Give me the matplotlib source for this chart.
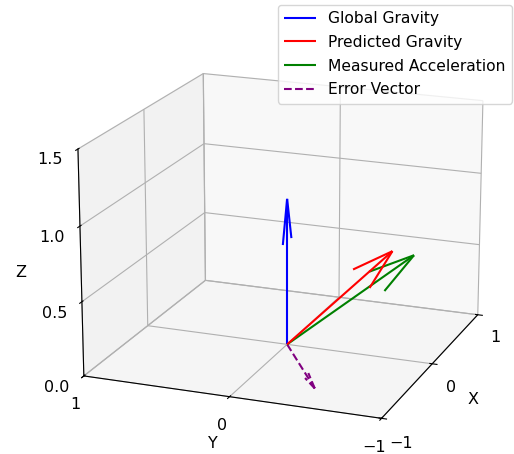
import numpy as np
import matplotlib
matplotlib.use("Agg")
import matplotlib.pyplot as plt

plt.rcParams["font.size"] = 11.5

# Vectors (from origin)
origin = [0.0, 0.0, 0.0]
global_gravity = [0.0, 0.0, 1.0]
predicted_gravity = [0.0, -0.72, 0.73]
measured_accel = [0.2, -0.8, 0.65]
error_vector = [-0.15, -0.25, -0.22]

labels = ["Global Gravity", "Predicted Gravity", "Measured Acceleration", "Error Vector"]
colors = ["blue", "red", "green", "purple"]
styles = ["-", "-", "-", "--"]
vectors = [global_gravity, predicted_gravity, measured_accel, error_vector]

x_lim = [-1, 1]
y_lim = [-1, 1]
z_lim = [0, 1.5]

fig = plt.figure(figsize=(5.14, 4.54), dpi=100)
ax = fig.add_axes([0.079, -0.062, 0.934, 1.057], projection="3d")

for v, c, ls, lab in zip(vectors, colors, styles, labels):
    ax.quiver(*origin, *v, color=c, linestyle=ls, label=lab)

ax.set_xlim(x_lim)
ax.set_ylim(y_lim)
ax.set_zlim(z_lim)
ax.set_xticks([-1, 0, 1])
ax.set_yticks([-1, 0, 1])
ax.set_zticks([0.0, 0.5, 1.0, 1.5])
ax.set_xlabel("X")
ax.set_ylabel("Y")
ax.set_zlabel("Z")
ax.view_init(elev=18, azim=-159)

ax.legend(loc="upper right", bbox_to_anchor=(512 / 514, 1 - 5 / 454),
          bbox_transform=fig.transFigure, borderaxespad=0,
          fontsize=11.2, handlelength=2.06, handletextpad=0.77, labelspacing=0.56)

fig.savefig("out.png", dpi=100)
